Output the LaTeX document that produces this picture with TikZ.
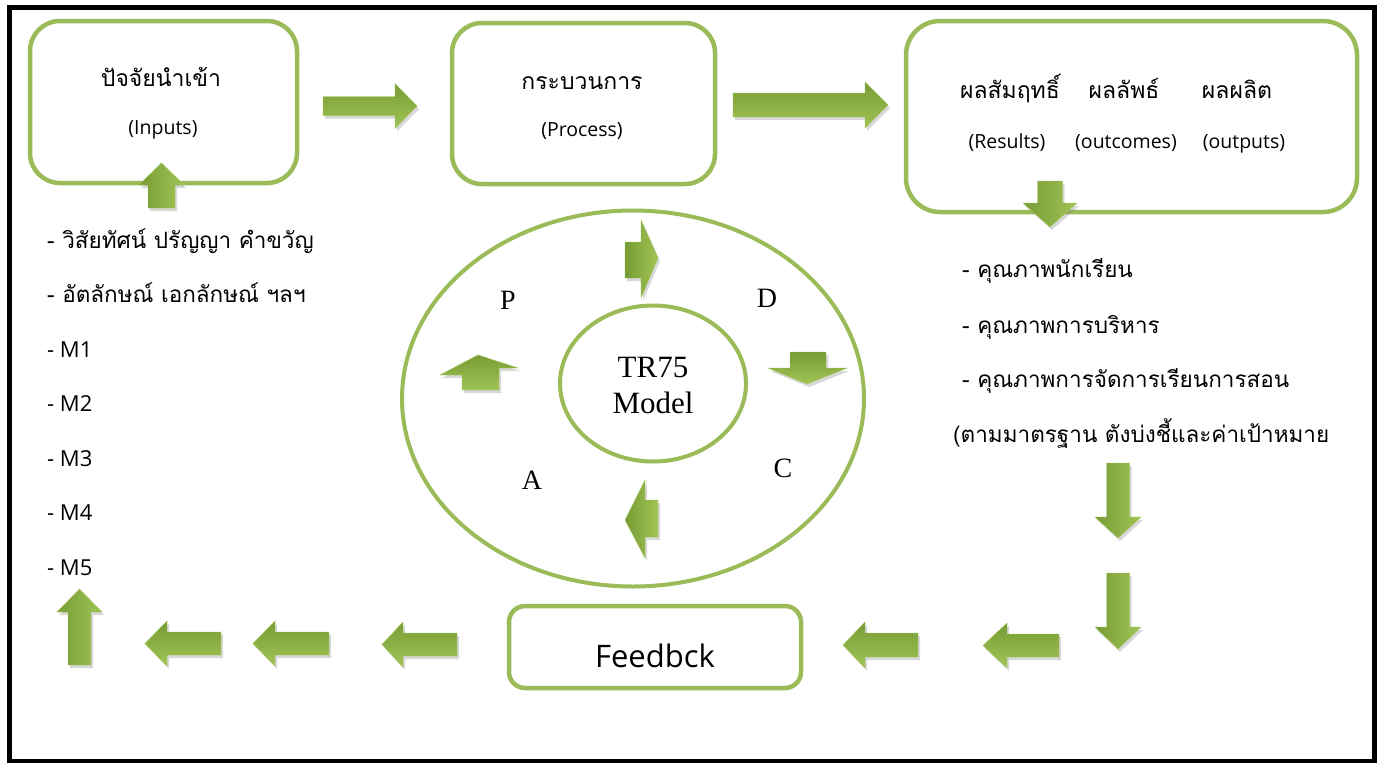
\documentclass[tikz,border=0pt]{standalone}
\usepackage{fontspec}
\setmainfont{Open Sans}
\newfontfamily\thaifont[Script=Thai]{Loma}
\newfontfamily\serfont{Liberation Serif}
\usetikzlibrary{shapes.geometric,shadows}
\definecolor{boxgreen}{HTML}{9BBB59}
\definecolor{arrdark}{HTML}{779C35}
\definecolor{arrlight}{HTML}{A0C455}
\tikzset{
  gbox/.style={draw=boxgreen, line width=4.5pt, rounded corners=30pt, fill=white, inner sep=0pt},
  gell/.style={draw=boxgreen, line width=4pt, ellipse, inner sep=0pt},
  arrshadow/.style={drop shadow={opacity=0.3, shadow xshift=2pt, shadow yshift=-3pt}},
  barrowH/.style={arrshadow, shade, top color=arrdark, bottom color=arrlight, draw=arrlight, line width=0.4pt},
  barrowV/.style={arrshadow, shade, left color=arrdark, right color=arrlight, draw=arrlight, line width=0.4pt},
  thtitle/.style={font=\thaifont\fontsize{23}{27}\selectfont, anchor=base, inner sep=0pt},
  entitle/.style={font=\fontsize{19.5}{23}\selectfont, anchor=base, inner sep=0pt},
  thlist/.style={font=\thaifont\fontsize{22.5}{26}\selectfont, anchor=base west, inner sep=0pt},
  enlist/.style={font=\fontsize{22}{26}\selectfont, anchor=base west, inner sep=0pt},
  pdca/.style={font=\serfont\fontsize{28}{32}\selectfont, inner sep=0pt},
}
\newcommand{\HArr}[7]{\path[#7] ({#1},{#4-#5}) -- ({#2},{#4-#5}) -- ({#2},{#4-#6}) -- ({#3},{#4}) -- ({#2},{#4+#6}) -- ({#2},{#4+#5}) -- ({#1},{#4+#5}) -- cycle;}
\newcommand{\VArr}[7]{\path[#7] ({#4-#5},{#1}) -- ({#4-#5},{#2}) -- ({#4-#6},{#2}) -- ({#4},{#3}) -- ({#4+#6},{#2}) -- ({#4+#5},{#2}) -- ({#4+#5},{#1}) -- cycle;}
\begin{document}
\begin{tikzpicture}[x=1pt,y=-1pt]
\useasboundingbox (0,0) rectangle (1381,764);
\fill[white] (0,0) rectangle (1381,764);
% frame
\draw[line width=4.5pt] (9.5,7.5) rectangle (1374.5,761);

% boxes
\node[gbox, minimum width=267pt, minimum height=162pt] (inputs) at (163.5,102) {};
\node[gbox, minimum width=263pt, minimum height=161pt] (process) at (583.5,103.5) {};
\node[gbox, rounded corners=34pt, minimum width=451pt, minimum height=191pt] (results) at (1131.5,116.5) {};
\node[gbox, rounded corners=16pt, minimum width=292pt, minimum height=82pt] (feedback) at (655,647) {};

% box texts
\node[thtitle] (inT) at (161,86) {ปัจจัยนำเข้า};
\node[entitle] (inE) at (163,134) {(Inputs)};
\node[thtitle] (prT) at (582,89) {กระบวนการ};
\node[entitle] (prE) at (582,136) {(Process)};
\node[thtitle] (r1T) at (1010,98) {ผลสัมฤทธิ์};
\node[thtitle] (r2T) at (1124,98) {ผลลัพธ์};
\node[thtitle] (r3T) at (1237,98) {ผลผลิต};
\node[entitle] (r1E) at (1007,148) {(Results)};
\node[entitle] (r2E) at (1126,148) {(outcomes)};
\node[entitle] (r3E) at (1244,148) {(outputs)};
\node[font=\fontsize{31}{34}\selectfont, anchor=base, inner sep=0pt] (fbT) at (655,667) {Feedbck};

% left list
\node[thlist] (l1) at (47,248) {- วิสัยทัศน์ ปรัญญา คำขวัญ};
\node[thlist] (l2) at (47,302) {- อัตลักษณ์ เอกลักษณ์ ฯลฯ};
\node[enlist] (l3) at (47,357) {- M1};
\node[enlist] (l4) at (47,411) {- M2};
\node[enlist] (l5) at (47,466) {- M3};
\node[enlist] (l6) at (47,520) {- M4};
\node[enlist] (l7) at (47,575) {- M5};

% right list
\node[thlist] (r1) at (962,277) {- คุณภาพนักเรียน};
\node[thlist] (r2) at (962,333) {- คุณภาพการบริหาร};
\node[thlist] (r3) at (962,387) {- คุณภาพการจัดการเรียนการสอน};
\node[thlist] (r4) at (953,442) {(ตามมาตรฐาน ตังบ่งชี้และค่าเป้าหมาย};

% PDCA ellipses
\node[gell, minimum width=462pt, minimum height=376pt] (outer) at (633,398.5) {};
\node[gell, minimum width=186pt, minimum height=156pt] (inner) at (653,383.5) {};
\node[font=\serfont\fontsize{31}{36}\selectfont, align=center, inner sep=0pt] (model) at (653,385) {TR75\\Model};
\node[pdca] (P) at (508,300) {P};
\node[pdca] (D) at (767,298) {D};
\node[pdca] (C) at (783,468) {C};
\node[pdca] (A) at (532,480) {A};

% small cycle arrows
\path[barrowV] (625,242) -- (641,242) -- (641,220) -- (658,258) -- (641,298) -- (641,278) -- (625,278) -- cycle;
\path[barrowH] (790,352) -- (826,352) -- (826,368) -- (847,368) -- (807,384) -- (768,368) -- (790,368) -- cycle;
\path[barrowV] (658,500) -- (645,500) -- (645,480) -- (625,520) -- (645,558) -- (645,537) -- (658,537) -- cycle;
\path[barrowH] (462,390) -- (462,375) -- (440,375) -- (478,355) -- (518,368) -- (499,368) -- (499,390) -- cycle;

% block arrows
\HArr{323}{395}{417}{106}{9.5}{22.5}{barrowH}
\HArr{733}{865}{888}{105}{12}{23}{barrowH}
\VArr{208}{185}{163}{161.5}{13.5}{22.5}{barrowV}
\VArr{181}{203}{227}{1050}{12.5}{27}{barrowV}
\VArr{463}{517}{538}{1118}{11.5}{23}{barrowV}
\VArr{573}{627}{649}{1118}{11.5}{23}{barrowV}
\HArr{1059}{1007}{983}{645.5}{11.5}{22.5}{barrowH}
\HArr{918}{865}{843}{645}{12}{23}{barrowH}
\HArr{457}{403}{382}{644.5}{11.5}{22.5}{barrowH}
\HArr{329}{275}{253}{643.5}{11.5}{22.5}{barrowH}
\HArr{221}{167}{145}{643.5}{11.5}{22.5}{barrowH}
\VArr{665}{612}{589}{79.5}{11.5}{22.5}{barrowV}
\end{tikzpicture}
\end{document}
